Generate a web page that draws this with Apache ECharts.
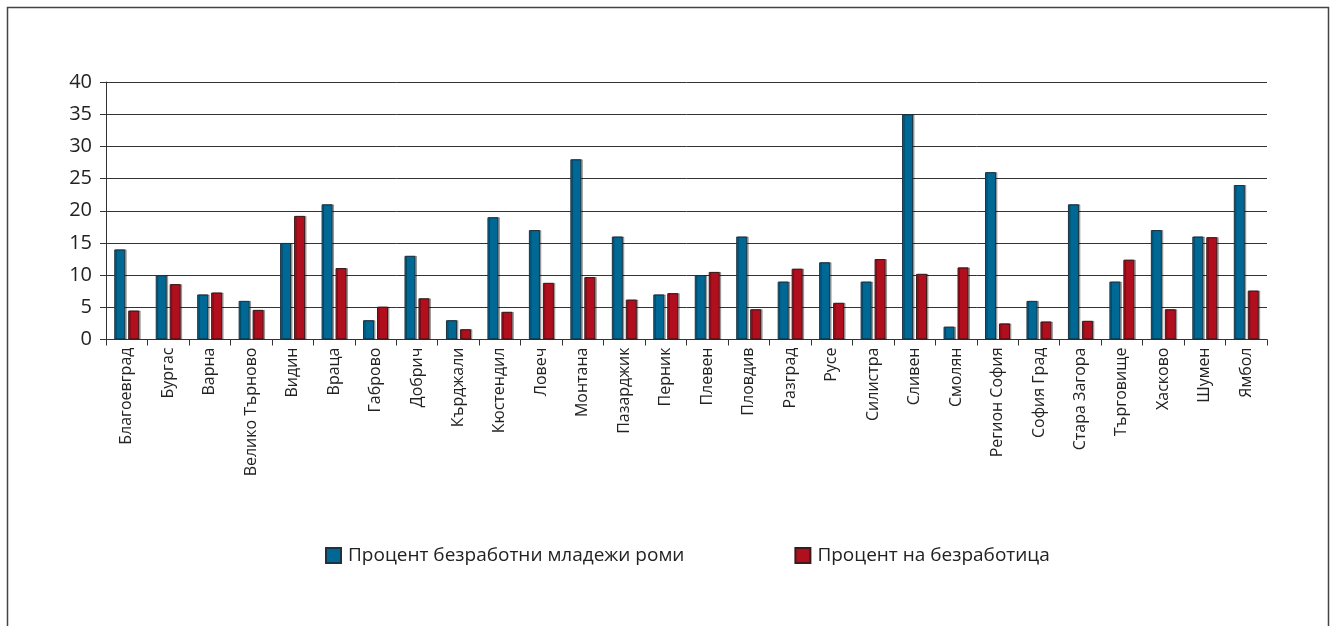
<!DOCTYPE html>
<html>
<head>
<meta charset="utf-8">
<script src="https://cdn.jsdelivr.net/npm/echarts@6/dist/echarts.min.js"></script>
<style>
html,body{margin:0;padding:0;background:#fff;}
#main{width:1336px;height:626px;}
</style>
</head>
<body>
<div id="main"></div>
<script>
const categories = ['Благоевград','Бургас','Варна','Велико Търново','Видин','Враца','Габрово','Добрич','Кърджали','Кюстендил','Ловеч','Монтана','Пазарджик','Перник','Плевен','Пловдив','Разград','Русе','Силистра','Сливен','Смолян','Регион София','София Град','Стара Загора','Търговище','Хасково','Шумен','Ямбол'];
const seriesNames = ['Процент безработни младежи роми','Процент на безработица'];
const youthRoma = [14,10,7,6,15,21,3,13,3,19,17,28,16,7,10,16,9,12,9,35,2,26,6,21,9,17,16,24];
const unemployment = [4.5,8.6,7.3,4.6,19.2,11.1,5.1,6.4,1.6,4.3,8.8,9.7,6.2,7.2,10.5,4.7,11.0,5.7,12.5,10.2,11.2,2.5,2.8,2.9,12.4,4.7,15.9,7.6];
const yTicks = {min:0, max:40, interval:5};

const chart = echarts.init(document.getElementById('main'));
const font = '"Open Sans", "Noto Sans", sans-serif';
chart.setOption({
  animation:false,
  backgroundColor:'#fff',
  graphic:[{
    type:'rect', shape:{x:7.5,y:7.5,width:1321,height:700},
    style:{fill:'none', stroke:'#444', lineWidth:1.5}
  }],
  legend:{
    left:320, top:541, itemWidth:15, itemHeight:15, itemGap:110,
    icon:'rect',
    textStyle:{fontFamily:font, fontSize:19, color:'#222', padding:[0,0,0,2]},
    data:seriesNames
  },
  grid:{left:106, right:69, top:82, bottom:286.5, containLabel:false},
  xAxis:{
    type:'category', data:categories,
    axisLine:{lineStyle:{color:'#333', width:1}},
    axisTick:{show:true, length:6, lineStyle:{color:'#333'}},
    axisLabel:{rotate:90, interval:0, margin:8, fontFamily:font, fontSize:16, color:'#222'}
  },
  yAxis:{
    type:'value', min:yTicks.min, max:yTicks.max, interval:yTicks.interval,
    axisLine:{show:true, lineStyle:{color:'#333', width:1}},
    axisTick:{show:true, length:6, lineStyle:{color:'#333'}},
    axisLabel:{margin:14, fontFamily:font, fontSize:20, color:'#222'},
    splitLine:{lineStyle:{color:'#333', width:1}}
  },
  series:[
    {name:seriesNames[0], type:'bar', data:youthRoma, barWidth:11, barGap:'27%',
     itemStyle:{color:'#006894', borderColor:'#1d3340', borderWidth:1, shadowColor:'rgba(0,0,0,0.3)', shadowOffsetX:1.5, shadowOffsetY:0}},
    {name:seriesNames[1], type:'bar', data:unemployment, barWidth:11,
     itemStyle:{color:'#b20f1e', borderColor:'#3a1a1a', borderWidth:1, shadowColor:'rgba(0,0,0,0.3)', shadowOffsetX:1.5, shadowOffsetY:0}}
  ]
});
</script>
</body>
</html>
